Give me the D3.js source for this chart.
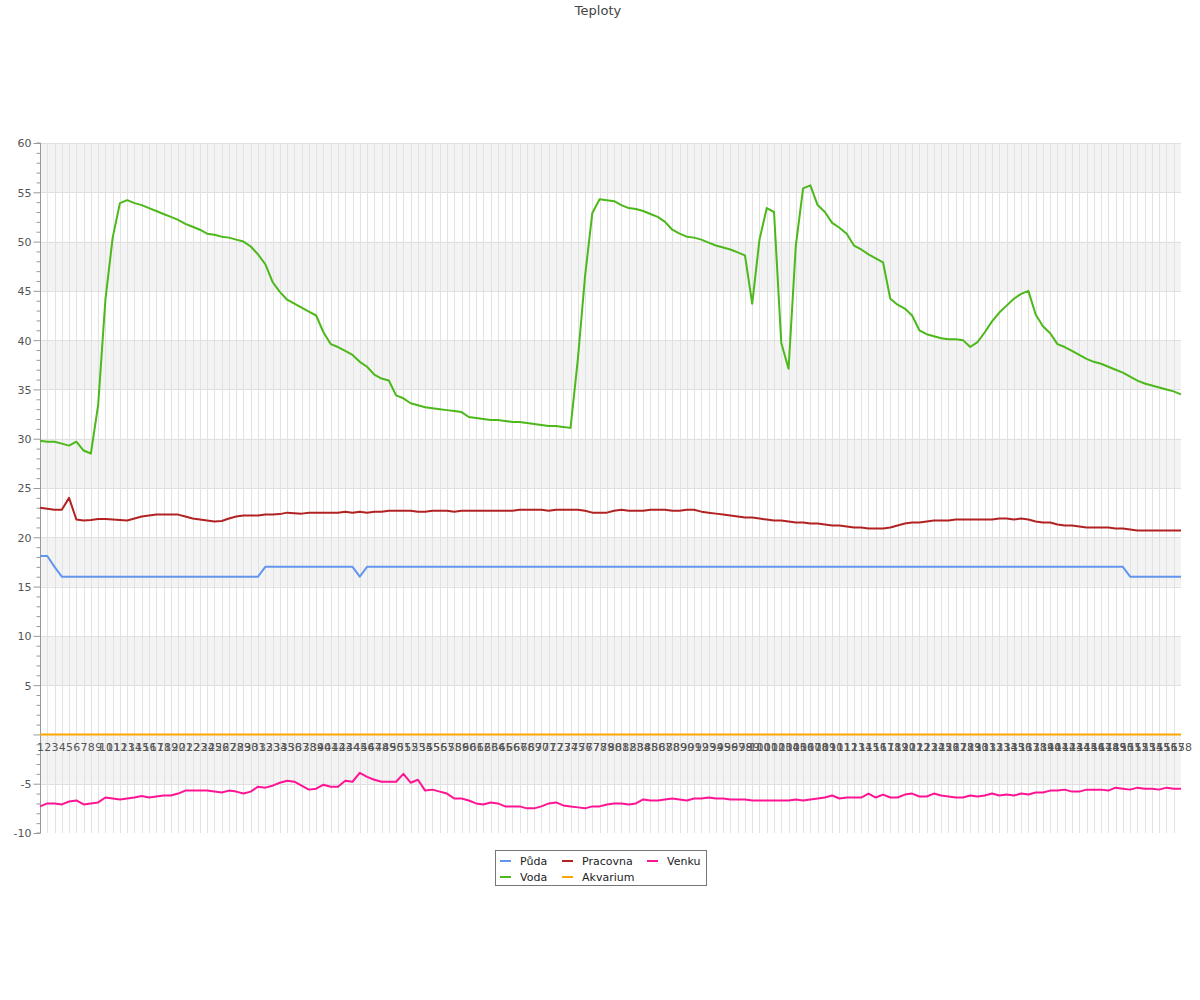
<!DOCTYPE html>
<html><head><meta charset="utf-8">
<script src="https://cdn.jsdelivr.net/npm/d3@7/dist/d3.min.js"></script>
<style>body{margin:0;background:#fff;} text{font-family:"DejaVu Sans",sans-serif;}</style>
</head><body>
<svg id="chart" width="1200" height="1000"></svg>
<script>
const categories = ["1","2","3","4","5","6","7","8","9","10","11","12","13","14","15","16","17","18","19","20","21","22","23","24","25","26","27","28","29","30","31","32","33","34","35","36","37","38","39","40","41","42","43","44","45","46","47","48","49","50","51","52","53","54","55","56","57","58","59","60","61","62","63","64","65","66","67","68","69","70","71","72","73","74","75","76","77","78","79","80","81","82","83","84","85","86","87","88","89","90","91","92","93","94","95","96","97","98","99","100","101","102","103","104","105","106","107","108","109","110","111","112","113","114","115","116","117","118","119","120","121","122","123","124","125","126","127","128","129","130","131","132","133","134","135","136","137","138","139","140","141","142","143","144","145","146","147","148","149","150","151","152","153","154","155","156","157","158"];

const puda = [18.1,18.1,17.0,16,16,16,16,16,16,16,
16,16,16,16,16,16,16,16,16,16,
16,16,16,16,16,16,16,16,16,16,
16,17,17,17,17,17,17,17,17,17,
17,17,17,17,16,17,17,17,17,17,
17,17,17,17,17,17,17,17,17,17,
17,17,17,17,17,17,17,17,17,17,
17,17,17,17,17,17,17,17,17,17,
17,17,17,17,17,17,17,17,17,17,
17,17,17,17,17,17,17,17,17,17,
17,17,17,17,17,17,17,17,17,17,
17,17,17,17,17,17,17,17,17,17,
17,17,17,17,17,17,17,17,17,17,
17,17,17,17,17,17,17,17,17,17,
17,17,17,17,17,17,17,17,17,17,
16,16,16,16,16,16,16,16];

const voda = [29.8,29.7,29.7,29.5,29.3,29.7,28.8,28.5,33.4,44.1,
50.4,53.9,54.2,53.9,53.7,53.4,53.1,52.8,52.5,52.2,
51.8,51.5,51.2,50.8,50.7,50.5,50.4,50.2,50.0,49.5,
48.7,47.7,45.9,44.9,44.1,43.7,43.3,42.9,42.5,40.8,
39.6,39.3,38.9,38.5,37.8,37.3,36.5,36.1,35.9,34.4,
34.1,33.6,33.4,33.2,33.1,33.0,32.9,32.8,32.7,32.2,
32.1,32.0,31.9,31.9,31.8,31.7,31.7,31.6,31.5,31.4,
31.3,31.3,31.2,31.1,38.0,46.5,52.9,54.3,54.2,54.1,
53.7,53.4,53.3,53.1,52.8,52.5,52.0,51.2,50.8,50.5,
50.4,50.2,49.9,49.6,49.4,49.2,48.9,48.6,43.7,50.2,
53.4,53.0,39.7,37.1,49.6,55.4,55.7,53.7,53.0,51.9,
51.4,50.8,49.6,49.2,48.7,48.3,47.9,44.2,43.6,43.2,
42.5,41.0,40.6,40.4,40.2,40.1,40.1,40.0,39.3,39.8,
40.8,41.9,42.8,43.5,44.2,44.7,45.0,42.6,41.4,40.7,
39.6,39.3,38.9,38.5,38.1,37.8,37.6,37.3,37.0,36.7,
36.3,35.9,35.6,35.4,35.2,35.0,34.8,34.5];

const pracovna = [23.0,22.9,22.8,22.8,24.0,21.8,21.7,21.75,21.85,21.85,
21.8,21.75,21.7,21.9,22.1,22.2,22.3,22.3,22.3,22.3,
22.1,21.9,21.8,21.7,21.6,21.65,21.9,22.1,22.2,22.2,
22.2,22.3,22.3,22.35,22.5,22.45,22.4,22.5,22.5,22.5,
22.5,22.5,22.6,22.5,22.6,22.5,22.6,22.6,22.7,22.7,
22.7,22.7,22.6,22.6,22.7,22.7,22.7,22.6,22.7,22.7,
22.7,22.7,22.7,22.7,22.7,22.7,22.8,22.8,22.8,22.8,
22.7,22.8,22.8,22.8,22.8,22.7,22.5,22.5,22.5,22.7,
22.8,22.7,22.7,22.7,22.8,22.8,22.8,22.7,22.7,22.8,
22.8,22.6,22.5,22.4,22.3,22.2,22.1,22.0,22.0,21.9,
21.8,21.7,21.7,21.6,21.5,21.5,21.4,21.4,21.3,21.2,
21.2,21.1,21.0,21.0,20.9,20.9,20.9,21.0,21.2,21.4,
21.5,21.5,21.6,21.7,21.7,21.7,21.8,21.8,21.8,21.8,
21.8,21.8,21.9,21.9,21.8,21.9,21.8,21.6,21.5,21.5,
21.3,21.2,21.2,21.1,21.0,21.0,21.0,21.0,20.9,20.9,
20.8,20.7,20.7,20.7,20.7,20.7,20.7,20.7];

const akvarium = [0,0,0,0,0,0,0,0,0,0,
0,0,0,0,0,0,0,0,0,0,
0,0,0,0,0,0,0,0,0,0,
0,0,0,0,0,0,0,0,0,0,
0,0,0,0,0,0,0,0,0,0,
0,0,0,0,0,0,0,0,0,0,
0,0,0,0,0,0,0,0,0,0,
0,0,0,0,0,0,0,0,0,0,
0,0,0,0,0,0,0,0,0,0,
0,0,0,0,0,0,0,0,0,0,
0,0,0,0,0,0,0,0,0,0,
0,0,0,0,0,0,0,0,0,0,
0,0,0,0,0,0,0,0,0,0,
0,0,0,0,0,0,0,0,0,0,
0,0,0,0,0,0,0,0,0,0,
0,0,0,0,0,0,0,0];

const venku = [-7.3,-7.0,-7.0,-7.1,-6.8,-6.7,-7.1,-7.0,-6.9,-6.4,
-6.5,-6.6,-6.5,-6.4,-6.25,-6.4,-6.3,-6.2,-6.2,-6.0,
-5.7,-5.7,-5.7,-5.7,-5.8,-5.9,-5.7,-5.8,-6.0,-5.8,
-5.3,-5.4,-5.2,-4.9,-4.7,-4.8,-5.2,-5.6,-5.5,-5.1,
-5.3,-5.3,-4.7,-4.8,-3.9,-4.3,-4.6,-4.8,-4.8,-4.8,
-4.0,-4.9,-4.6,-5.7,-5.6,-5.8,-6.0,-6.5,-6.5,-6.7,
-7.0,-7.1,-6.9,-7.0,-7.3,-7.3,-7.3,-7.5,-7.5,-7.3,
-7.0,-6.9,-7.2,-7.3,-7.4,-7.5,-7.3,-7.3,-7.1,-7.0,
-7.0,-7.1,-7.0,-6.6,-6.7,-6.7,-6.6,-6.5,-6.6,-6.7,
-6.5,-6.5,-6.4,-6.5,-6.5,-6.6,-6.6,-6.6,-6.7,-6.7,
-6.7,-6.7,-6.7,-6.7,-6.6,-6.7,-6.6,-6.5,-6.4,-6.2,
-6.5,-6.4,-6.4,-6.4,-6.0,-6.4,-6.1,-6.4,-6.4,-6.1,
-6.0,-6.3,-6.3,-6.0,-6.2,-6.3,-6.4,-6.4,-6.2,-6.3,
-6.2,-6.0,-6.2,-6.1,-6.2,-6.0,-6.1,-5.9,-5.9,-5.7,
-5.7,-5.6,-5.8,-5.8,-5.6,-5.6,-5.6,-5.7,-5.4,-5.5,
-5.6,-5.4,-5.5,-5.5,-5.6,-5.4,-5.5,-5.5];

const yTicks = [60,55,50,45,40,35,30,25,20,15,10,5,-5,-10];
const seriesNames = ["Půda","Voda","Pracovna","Akvarium","Venku"];
const seriesColors = ["#6495ed","#4cb81a","#b22222","#ffa500","#ff1493"];
const seriesData = [puda, voda, pracovna, akvarium, venku];

const L = 40, R = 1181, T = 143, B = 833;
const svg = d3.select("#chart");
const x = d3.scalePoint().domain(categories).range([L, R]);
const y = d3.scaleLinear().domain([-10, 60]).range([B, T]);

// title
svg.append("text").attr("x", 598).attr("y", 15).attr("text-anchor", "middle")
  .attr("font-size", 13).attr("fill", "#444").text("Teploty");

// bands
const bandStarts = [55,45,35,25,15,5,-5];
svg.append("g").selectAll("rect").data(bandStarts).join("rect")
  .attr("x", L).attr("width", R - L)
  .attr("y", d => y(d + 5)).attr("height", d => y(d) - y(d + 5))
  .attr("fill", "#f3f3f3");

// vertical grid
svg.append("g").selectAll("line").data(categories.slice(1, -1)).join("line")
  .attr("x1", d => Math.round(x(d)) + 0.5).attr("x2", d => Math.round(x(d)) + 0.5)
  .attr("y1", T).attr("y2", B).attr("stroke", "#e2e2e2").attr("stroke-width", 1);

// horizontal grid
svg.append("g").selectAll("line").data(d3.range(-5, 61, 5)).join("line")
  .attr("x1", L).attr("x2", R)
  .attr("y1", d => Math.round(y(d)) + 0.5).attr("y2", d => Math.round(y(d)) + 0.5)
  .attr("stroke", "#e0e0e0").attr("stroke-width", 1);

// y axis
const yAxis = d3.axisLeft(y).tickValues(d3.range(-10, 61, 1)).tickSize(4).tickFormat("");
const ga = svg.append("g").attr("transform", `translate(${L + 0.5},0)`).call(yAxis);
ga.select(".domain").attr("stroke", "#999").attr("d", `M-4,${T}H0V${B}H-4`);
ga.selectAll(".tick line").attr("stroke", "#999");
ga.selectAll(".tick").filter(d => d % 5 === 0).select("line").attr("x2", -7);
ga.selectAll(".tick").filter(d => yTicks.includes(d)).append("text")
  .attr("x", -9).attr("dy", "0.35em").attr("text-anchor", "end")
  .attr("fill", "#555").attr("font-size", 11).text(d => d);

// x labels
const xAxis = d3.axisBottom(x).tickSize(0).tickPadding(0);
const gx = svg.append("g").attr("transform", `translate(0,${y(0)})`).call(xAxis);
gx.select(".domain").remove();
gx.selectAll(".tick text").attr("y", 9).attr("dy", "0.71em")
  .attr("fill", "#555").attr("font-size", 11).attr("font-family", "DejaVu Sans");

// lines
const line = d3.line().x((d, i) => x(categories[i])).y(d => y(d));
svg.append("g").selectAll("path").data(seriesData).join("path")
  .attr("d", d => line(d)).attr("fill", "none")
  .attr("stroke", (d, i) => seriesColors[i]).attr("stroke-width", 2)
  .attr("stroke-linejoin", "round");

// legend
const lg = svg.append("g");
lg.append("rect").attr("x", 495.5).attr("y", 850.5).attr("width", 211).attr("height", 35)
  .attr("fill", "#fff").attr("stroke", "#777");
const colX = [500, 562, 647];
const order = [[0,0,0],[2,1,0],[4,2,0],[1,0,1],[3,1,1]];
order.forEach(([si, c, r]) => {
  const yy = 861 + r * 16;
  lg.append("line").attr("x1", colX[c]).attr("x2", colX[c] + 11)
    .attr("y1", yy).attr("y2", yy).attr("stroke", seriesColors[si]).attr("stroke-width", 2);
  lg.append("text").attr("x", colX[c] + 20).attr("y", yy).attr("dy", "0.35em")
    .attr("font-size", 11).attr("fill", "#222").text(seriesNames[si]);
});
</script>
</body></html>
